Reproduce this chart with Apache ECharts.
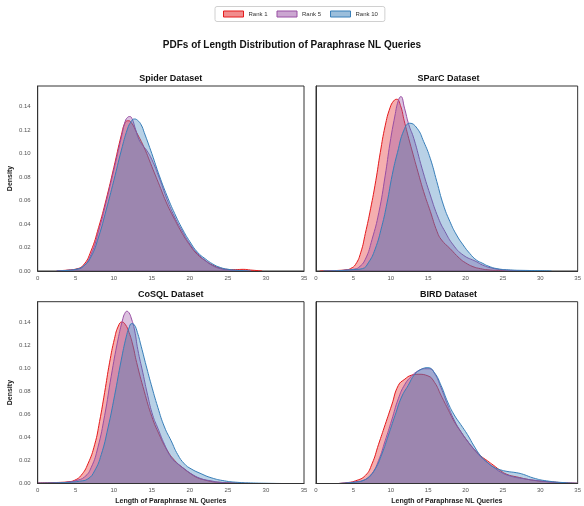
<!DOCTYPE html>
<html>
<head>
<meta charset="utf-8">
<script src="https://cdn.jsdelivr.net/npm/echarts@6/dist/echarts.min.js"></script>
<style>
html,body{margin:0;padding:0;background:#fff;}
#chart{width:584px;height:506px;}
</style>
</head>
<body>
<div id="chart"></div>
<script>
// ---- Data (x = length, y = density) ----
const panelTitles = ['Spider Dataset', 'SParC Dataset', 'CoSQL Dataset', 'BIRD Dataset'];
const rankNames = ['Rank 1', 'Rank 5', 'Rank 10'];
const rankColors = ['#e41a1c', '#984ea3', '#377eb8'];
const rankFills = ['rgba(228,26,28,0.5)', 'rgba(152,78,163,0.5)', 'rgba(55,126,184,0.5)'];
const xTicks = [0, 5, 10, 15, 20, 25, 30, 35];
const yTicks = [0, 0.02, 0.04, 0.06, 0.08, 0.10, 0.12, 0.14];

const spiderRank1 = [[2.5,0],[3,0.0003],[4,0.0008],[5,0.0016],[6,0.005],[7,0.017],[8,0.037],[9,0.061],[10,0.088],[11,0.116],[11.5,0.1265],[11.9,0.128],[12.3,0.1265],[13,0.118],[14,0.105],[15,0.089],[16,0.073],[17,0.057],[18,0.044],[19,0.032],[20,0.022],[21,0.014],[22,0.009],[23,0.005],[24,0.0025],[25,0.0013],[26,0.0012],[27,0.0014],[28,0.0008],[29,0.0003],[29.5,0]];
const spiderRank5 = [[2.5,0],[3,0.0002],[4,0.0006],[5,0.0013],[6,0.004],[7,0.014],[8,0.034],[9,0.059],[10,0.086],[11,0.114],[11.5,0.1275],[11.8,0.1308],[12.1,0.1316],[12.4,0.1298],[12.8,0.122],[13.3,0.112],[13.8,0.107],[14.3,0.103],[15,0.095],[16,0.079],[17,0.061],[18,0.046],[19,0.034],[20,0.023],[21,0.015],[22,0.009],[23,0.0045],[24,0.002],[25,0.001],[26,0.0005],[27,0.0002],[28,0]];
const spiderRank10 = [[2.5,0],[3,0.0002],[4,0.0006],[5,0.0014],[6,0.004],[7,0.012],[8,0.029],[9,0.052],[10,0.077],[11,0.103],[11.8,0.121],[12.3,0.1275],[12.7,0.1295],[13.1,0.1285],[13.6,0.1245],[14,0.118],[15,0.100],[16,0.081],[17,0.064],[18,0.049],[19,0.036],[20,0.025],[21,0.016],[22,0.0105],[23,0.006],[24,0.003],[25,0.0015],[26,0.0007],[27,0.0003],[28,0]];

const sparcRank1 = [[0.5,0],[2,0.0002],[3,0.0005],[4,0.001],[4.6,0.002],[5.3,0.0057],[6,0.016],[6.6,0.032],[7.3,0.053],[8,0.077],[8.6,0.101],[9.25,0.1236],[9.9,0.139],[10.4,0.145],[10.8,0.1463],[11.3,0.141],[11.8,0.128],[12.4,0.113],[13,0.099],[13.5,0.0875],[14.4,0.0676],[15.3,0.0506],[16.2,0.0335],[16.8,0.0264],[17.9,0.0193],[19.2,0.0108],[20,0.007],[21,0.0037],[22,0.002],[23,0.001],[25,0.0003],[27,0]];
const sparcRank5 = [[1,0],[3,0.0003],[4,0.0008],[5,0.0015],[5.7,0.003],[6.6,0.01],[7.5,0.027],[8.4,0.0497],[9.25,0.081],[9.9,0.109],[10.55,0.132],[11,0.145],[11.35,0.1486],[11.84,0.1387],[12.42,0.1245],[13.08,0.113],[14.18,0.0875],[15.28,0.0648],[16.38,0.0449],[17.26,0.0335],[18.36,0.0222],[19.68,0.0136],[21.44,0.008],[22.3,0.005],[23.5,0.0025],[25,0.001],[27,0.0003],[29,0]];
const sparcRank10 = [[1,0],[3,0.0003],[4,0.0007],[5,0.0012],[6.2,0.002],[7,0.007],[7.9,0.0185],[8.8,0.038],[9.5,0.058],[10.2,0.082],[10.9,0.101],[11.76,0.12],[12.55,0.1259],[13.52,0.1216],[14.4,0.1103],[15.28,0.096],[16.16,0.0762],[17.04,0.0563],[17.92,0.042],[18.8,0.0307],[19.68,0.0222],[20.56,0.015],[21.44,0.0094],[22.3,0.0065],[23,0.0043],[24.2,0.002],[26,0.0009],[28,0.0005],[30,0.0003],[31.5,0]];

const cosqlRank1 = [[0,0.0005],[2,0.0008],[3,0.001],[4,0.0015],[4.85,0.0028],[5.7,0.007],[6.6,0.017],[7.5,0.034],[8.13,0.0537],[8.8,0.079],[9.44,0.1046],[10.1,0.1258],[10.6,0.1365],[11.06,0.14],[11.5,0.138],[12,0.131],[12.5,0.12],[13,0.105],[14,0.08],[15,0.058],[16,0.042],[17,0.029],[18,0.02],[19,0.014],[20,0.009],[21,0.005],[22,0.003],[23,0.0015],[24,0.001],[26,0.0004],[28,0]];
const cosqlRank5 = [[0,0.0003],[2,0.0005],[4,0.0012],[5,0.0025],[6.16,0.0057],[7.04,0.014],[7.9,0.031],[8.8,0.059],[9.66,0.093],[10.54,0.1244],[11.19,0.1428],[11.45,0.1475],[11.72,0.1493],[12.0,0.148],[12.29,0.1435],[12.73,0.133],[13.16,0.116],[13.82,0.096],[14.47,0.076],[15.13,0.059],[15.79,0.048],[16.66,0.034],[17.54,0.0226],[18.41,0.017],[19.29,0.0127],[20.16,0.0085],[21.47,0.0042],[22.79,0.0023],[24,0.001],[26,0.0003],[28,0]];
const cosqlRank10 = [[0,0.0003],[2,0.0005],[4,0.001],[5.5,0.002],[6.6,0.004],[7.48,0.011],[8.35,0.025],[9.23,0.048],[10.1,0.076],[10.98,0.107],[11.63,0.127],[12.0,0.1348],[12.35,0.1386],[12.7,0.1375],[13.1,0.131],[13.6,0.119],[14.26,0.102],[14.91,0.086],[15.79,0.066],[16.66,0.049],[17.54,0.037],[18.41,0.025],[19.29,0.017],[20.16,0.0127],[21.47,0.0085],[22.79,0.005],[24.54,0.0023],[26.3,0.001],[28,0.0005],[30,0.0002],[32,0]];

const birdRank1 = [[3,0],[4,0.0006],[5.28,0.0023],[6.61,0.007],[7.49,0.017],[8.37,0.034],[9.25,0.051],[10.13,0.068],[11.01,0.085],[11.89,0.0905],[12.77,0.0939],[13.65,0.0947],[14.97,0.0933],[15.85,0.0877],[16.73,0.0764],[17.61,0.065],[18.49,0.0537],[19.37,0.045],[20.26,0.0368],[21.14,0.0297],[22.02,0.024],[22.9,0.0198],[23.78,0.0156],[24.66,0.0113],[25.54,0.0079],[26.86,0.0057],[29.06,0.0028],[31.3,0.0014],[33.5,0.0006],[35,0.0002]];
const birdRank5 = [[3,0],[4,0.0005],[5.3,0.0015],[6.6,0.0034],[7.49,0.0085],[8.37,0.02],[9.25,0.037],[10.13,0.055],[11.01,0.0735],[11.89,0.086],[12.77,0.093],[13.65,0.0976],[14.53,0.0995],[15.19,0.0995],[15.85,0.0956],[16.73,0.083],[17.61,0.068],[18.49,0.055],[19.37,0.045],[20.26,0.0368],[21.14,0.0297],[22.02,0.0232],[22.9,0.0184],[23.78,0.0141],[24.66,0.01],[25.98,0.0065],[27.74,0.0042],[29.94,0.0023],[32.6,0.0008],[35,0.0002]];
const birdRank10 = [[3,0],[4,0.0004],[5.3,0.0012],[6.17,0.0023],[7.05,0.0057],[7.93,0.0127],[8.81,0.0255],[9.69,0.042],[10.57,0.059],[11.45,0.075],[12.33,0.085],[13.21,0.0947],[14.09,0.099],[14.97,0.1004],[15.85,0.096],[16.73,0.085],[17.61,0.0707],[18.49,0.0594],[19.37,0.051],[20.26,0.0424],[21.14,0.0325],[22.02,0.024],[22.9,0.0184],[23.78,0.0141],[24.66,0.0119],[25.54,0.0105],[26.86,0.0093],[27.74,0.0079],[29.06,0.0048],[30.82,0.0023],[33.5,0.0006],[35,0.0002]];

const panelData = [
  [spiderRank1, spiderRank5, spiderRank10],
  [sparcRank1, sparcRank5, sparcRank10],
  [cosqlRank1, cosqlRank5, cosqlRank10],
  [birdRank1, birdRank5, birdRank10]
];

// ---- Layout ----
const FONT = '"Liberation Sans", Arial, Helvetica, sans-serif';
const grids = [
  {left: 37.7, top: 86, width: 266.3, height: 185},
  {left: 316, top: 86, width: 265, height: 185},
  {left: 37.7, top: 301.7, width: 266.3, height: 185},
  {left: 316, top: 301.7, width: 265, height: 185}
];
const yMax = 0.1576;

const chart = echarts.init(document.getElementById('chart'), null, {renderer: 'canvas'});

const titles = [{
  text: 'PDFs of Length Distribution of Paraphrase NL Queries',
  left: 292, top: 40, textAlign: 'center', padding: 0,
  textStyle: {fontFamily: FONT, fontSize: 10, fontWeight: 'bold', color: '#111'}
}];
grids.forEach((g, i) => {
  titles.push({
    text: panelTitles[i],
    left: g.left + g.width / 2, top: g.top - 12, textAlign: 'center', padding: 0,
    textStyle: {fontFamily: FONT, fontSize: 9, fontWeight: 'bold', color: '#111'}
  });
});

const xAxes = grids.map((g, i) => ({
  type: 'value', gridIndex: i, min: xTicks[0], max: xTicks[xTicks.length - 1], interval: 5,
  z: 5,
  axisLine: {show: true, lineStyle: {color: '#333', width: 1}},
  axisTick: {show: false},
  splitLine: {show: false},
  axisLabel: {fontFamily: FONT, fontSize: 6, color: '#555', margin: 4},
  name: i >= 2 ? 'Length of Paraphrase NL Queries' : '',
  nameLocation: 'middle', nameGap: 14.5,
  nameTextStyle: {fontFamily: FONT, fontSize: 7, fontWeight: 'bold', color: '#222'}
}));
const yAxes = grids.map((g, i) => ({
  type: 'value', gridIndex: i, min: 0, max: yMax, interval: 0.02,
  z: 5,
  axisLine: {show: true, lineStyle: {color: '#333', width: 1}},
  axisTick: {show: false},
  splitLine: {show: false},
  axisLabel: {show: i % 2 === 0, fontFamily: FONT, fontSize: 6, color: '#555', margin: 7,
    formatter: v => (yTicks.some(t => Math.abs(t - v) < 1e-9) ? v.toFixed(2) : '')},
  name: i % 2 === 0 ? 'Density' : '',
  nameLocation: 'middle', nameGap: 24, nameRotate: 90,
  nameTextStyle: {fontFamily: FONT, fontSize: 7, fontWeight: 'bold', color: '#222'}
}));

const series = [];
panelData.forEach((ranks, p) => {
  ranks.forEach((arr, r) => {
    series.push({
      name: rankNames[r], type: 'line', xAxisIndex: p, yAxisIndex: p,
      data: arr, smooth: 0.5, showSymbol: false, symbol: 'none',
      lineStyle: {color: rankColors[r], width: 1},
      itemStyle: {color: rankColors[r]},
      areaStyle: {color: rankFills[r], origin: 'start'},
      z: 2 + r, silent: true, animation: false
    });
  });
});

chart.setOption({
  animation: false,
  backgroundColor: '#fff',
  title: titles,
  legend: {
    left: 215, top: 6.5,
    icon: 'rect', itemWidth: 20, itemHeight: 6, itemGap: 9,
    padding: [4, 7, 4, 8],
    borderColor: '#d0d0d0', borderWidth: 1, borderRadius: 2,
    textStyle: {fontFamily: FONT, fontSize: 6, color: '#333'},
    data: rankNames.map((n, i) => ({
      name: n,
      itemStyle: {color: rankFills[i], borderColor: rankColors[i], borderWidth: 1}
    }))
  },
  grid: grids.map(g => Object.assign({show: true, borderColor: '#333', borderWidth: 1, backgroundColor: 'transparent', containLabel: false}, g)),
  xAxis: xAxes,
  yAxis: yAxes,
  series: series
});
</script>
</body>
</html>
